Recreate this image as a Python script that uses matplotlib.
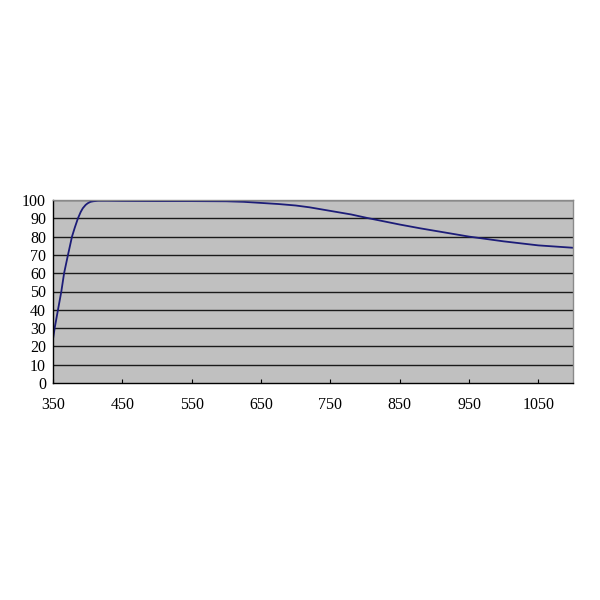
import matplotlib
matplotlib.use("Agg")
import matplotlib.pyplot as plt

wavelength = [350, 352.4, 357.2, 362, 366, 371.6, 377.4, 381.5, 386, 390, 393, 397, 400, 404, 408, 415, 430,
              450, 500, 550, 600, 625, 650, 675, 700, 720, 740, 760, 780, 803, 850, 880, 950, 1000, 1050, 1100]
transmission = [24, 30, 40, 50, 60, 70, 80, 85, 90, 93.5, 95.5, 97.3, 98.2, 99.0, 99.3, 99.6, 99.6,
                99.5, 99.4, 99.4, 99.3, 99.0, 98.4, 97.8, 97.0, 96.0, 94.7, 93.4, 92.1, 90.2, 86.6, 84.5, 80.0, 77.4, 75.2, 73.9]

x_ticks = [350, 450, 550, 650, 750, 850, 950, 1050]
y_ticks = list(range(0, 101, 10))

fig = plt.figure(figsize=(6, 6), dpi=100)
ax = fig.add_axes([53/600, 1-383/600, 520/600, 183/600])
ax.set_facecolor("#c0c0c0")
ax.plot(wavelength, transmission, color="#1c1c78", linewidth=1.3)
ax.set_xlim(350, 1100)
ax.set_ylim(0, 100)
ax.set_xticks(x_ticks)
ax.set_yticks(y_ticks)
for y in y_ticks[1:]:
    ax.axhline(y, color="#1a1a1a", linewidth=1.0, zorder=1)
for s in ["left", "bottom"]:
    ax.spines[s].set_color("black")
    ax.spines[s].set_linewidth(1.0)
for s in ["top", "right"]:
    ax.spines[s].set_color("#8a8a8a")
    ax.spines[s].set_linewidth(1.0)
ax.tick_params(axis="x", direction="in", length=3, pad=10, labelsize=11.5)
ax.tick_params(axis="y", direction="out", length=0, pad=5, labelsize=11.5)
for lab in ax.get_xticklabels() + ax.get_yticklabels():
    lab.set_family("Liberation Serif")
fig.savefig("out.png", dpi=100, facecolor="white")
